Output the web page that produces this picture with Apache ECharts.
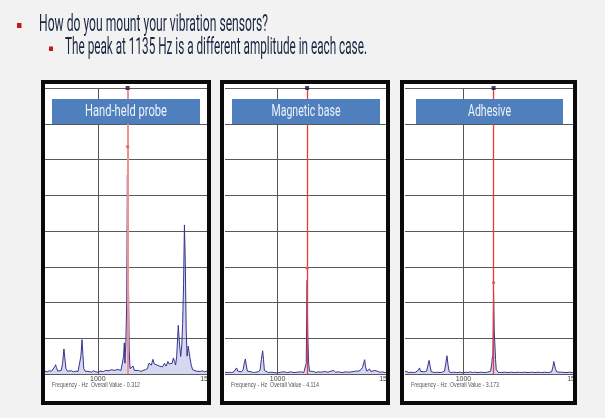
<!DOCTYPE html>
<html>
<head>
<meta charset="utf-8">
<script src="https://cdn.jsdelivr.net/npm/echarts@6/dist/echarts.min.js"></script>
<style>
  html, body { margin: 0; padding: 0; background: #f2f2f2; }
  #main { width: 605px; height: 418px; }
</style>
</head>
<body>
<div id="main"></div>
<script>
// text
const headline = 'How do you mount your vibration sensors?';
const subline = 'The peak at 1135 Hz is a different amplitude in each case.';
const panelTitles = ['Hand-held probe', 'Magnetic base', 'Adhesive'];
const overallValues = ['0.312', '4.114', '3.173'];

// axes
const xTickValues = [1000, 1500];
const refLineHz = 1000;
const cursorHz = 1135;
const yTop = 8;
const markerAmps = [6.36, 2.96, 2.55];

// spectra [Hz, amplitude in grid divisions]
const handHeld = [
  [760, 0.08], [770, 0.06], [780, 0.09], [790, 0.08], [798, 0.12], [804, 0.2], [808, 0.26], [812, 0.18],
  [818, 0.08], [826, 0.07], [834, 0.1], [840, 0.3], [846, 0.7], [850, 0.45], [855, 0.15], [862, 0.08],
  [870, 0.07], [880, 0.09], [890, 0.06], [900, 0.08], [910, 0.07], [918, 0.12], [923, 0.5], [928, 0.96],
  [932, 0.55], [936, 0.15], [942, 0.08], [950, 0.06], [960, 0.07], [970, 0.05], [980, 0.09], [990, 0.06],
  [1000, 0.05], [1010, 0.08], [1018, 0.12], [1025, 0.07], [1035, 0.1], [1042, 0.06], [1050, 0.09],
  [1060, 0.12], [1068, 0.07], [1078, 0.1], [1088, 0.13], [1095, 0.08], [1105, 0.1], [1112, 0.15],
  [1117, 0.5], [1120, 0.87], [1123, 0.3], [1127, 0.9], [1131, 2.0], [1134, 5.57], [1136, 3.5],
  [1139, 2.6], [1142, 0.7], [1146, 0.15], [1152, 0.1], [1160, 0.22], [1166, 0.1], [1175, 0.08],
  [1185, 0.1], [1195, 0.07], [1205, 0.1], [1215, 0.12], [1225, 0.15], [1232, 0.3], [1237, 0.35],
  [1243, 0.25], [1250, 0.41], [1256, 0.28], [1262, 0.33], [1268, 0.25], [1274, 0.3], [1280, 0.22],
  [1287, 0.25], [1294, 0.2], [1302, 0.3], [1310, 0.22], [1318, 0.35], [1324, 0.28], [1331, 0.32],
  [1337, 0.3], [1343, 0.45], [1348, 0.35], [1353, 0.25], [1358, 0.5], [1365, 1.36], [1370, 0.9],
  [1376, 0.49], [1381, 0.8], [1385, 1.42], [1389, 2.5], [1393, 4.17], [1397, 3.1], [1401, 1.2],
  [1405, 0.5], [1410, 0.78], [1414, 0.78], [1418, 0.45], [1424, 0.25], [1430, 0.12], [1438, 0.1],
  [1446, 0.08], [1455, 0.1], [1465, 0.07], [1475, 0.09], [1485, 0.06], [1495, 0.08], [1500, 0.07]
];
const magnetic = [
  [760, 0.05], [770, 0.04], [780, 0.05], [790, 0.04], [800, 0.06], [808, 0.1], [813, 0.17], [818, 0.08],
  [826, 0.05], [835, 0.06], [843, 0.12], [848, 0.3], [853, 0.42], [857, 0.25], [862, 0.08], [870, 0.05],
  [880, 0.06], [890, 0.04], [900, 0.05], [910, 0.06], [920, 0.1], [926, 0.4], [932, 0.65], [936, 0.4],
  [940, 0.1], [948, 0.05], [958, 0.04], [970, 0.05], [985, 0.04], [1000, 0.03], [1015, 0.05],
  [1030, 0.06], [1045, 0.04], [1060, 0.06], [1075, 0.04], [1090, 0.05], [1105, 0.06], [1120, 0.04],
  [1126, 0.05], [1131, 0.3], [1135, 2.62], [1138, 1.1], [1142, 0.3], [1146, 0.08], [1155, 0.05],
  [1165, 0.07], [1175, 0.04], [1185, 0.06], [1200, 0.05], [1215, 0.07], [1230, 0.05], [1245, 0.08],
  [1255, 0.1], [1265, 0.05], [1280, 0.06], [1295, 0.04], [1310, 0.06], [1325, 0.05], [1340, 0.06],
  [1355, 0.08], [1362, 0.12], [1368, 0.08], [1378, 0.1], [1388, 0.18], [1394, 0.32], [1398, 0.4],
  [1402, 0.2], [1408, 0.08], [1415, 0.1], [1420, 0.14], [1426, 0.07], [1434, 0.06], [1445, 0.1],
  [1452, 0.12], [1458, 0.07], [1470, 0.05], [1480, 0.06], [1490, 0.04], [1500, 0.05]
];
const adhesive = [
  [738, 0.08], [745, 0.05], [755, 0.04], [765, 0.05], [775, 0.04], [785, 0.05], [792, 0.06],
  [797, 0.1], [803, 0.17], [808, 0.07], [815, 0.05], [825, 0.06], [835, 0.08], [841, 0.25], [846, 0.38],
  [851, 0.2], [856, 0.06], [865, 0.05], [875, 0.04], [885, 0.05], [895, 0.04], [905, 0.05], [915, 0.08],
  [921, 0.3], [926, 0.51], [931, 0.25], [936, 0.06], [945, 0.04], [955, 0.05], [970, 0.04], [985, 0.05],
  [1000, 0.03], [1010, 0.05], [1020, 0.04], [1030, 0.06], [1040, 0.04], [1050, 0.05], [1065, 0.04],
  [1080, 0.05], [1095, 0.04], [1108, 0.05], [1115, 0.04], [1122, 0.08], [1127, 0.3], [1129, 0.44],
  [1132, 0.5], [1135, 2.28], [1138, 1.2], [1141, 0.81], [1144, 0.4], [1147, 0.12], [1155, 0.05],
  [1170, 0.04], [1185, 0.05], [1200, 0.04], [1215, 0.05], [1230, 0.04], [1245, 0.05], [1260, 0.04],
  [1275, 0.05], [1290, 0.04], [1305, 0.05], [1320, 0.04], [1335, 0.05], [1350, 0.04], [1365, 0.05],
  [1380, 0.04], [1395, 0.06], [1401, 0.2], [1405, 0.35], [1408, 0.4], [1412, 0.15], [1418, 0.06],
  [1428, 0.05], [1434, 0.1], [1440, 0.05], [1460, 0.04], [1475, 0.05], [1490, 0.04], [1500, 0.05]
];
const spectra = [handHeld, magnetic, adhesive];

// layout of the three instrument windows
const panels = [
  { frame: [41, 80, 170, 325], plotLeft: 45, plotWidth: 163, xMin: 760, xMax: 1500, box: [52, 99, 148, 25], cursorColor: '#f19090', cursorWidth: 2 },
  { frame: [220, 80, 170, 325], plotLeft: 225, plotWidth: 162, xMin: 760, xMax: 1500, box: [232, 99, 148, 25], cursorColor: '#e83a3a', cursorWidth: 1.3 },
  { frame: [400, 80, 177, 325], plotLeft: 405, plotWidth: 170, xMin: 738, xMax: 1500, box: [416, 99, 147, 25], cursorColor: '#e83a3a', cursorWidth: 1.3 }
];
const plotTop = 88;
const plotHeight = 286;

const measureCtx = document.createElement('canvas').getContext('2d');
function fitScale(text, font, width) {
  measureCtx.font = font;
  return width / measureCtx.measureText(text).width;
}

const slideFont = 'Roboto';
const graphics = [];
const grids = [], xAxes = [], yAxes = [], series = [];

// bullets + headline
graphics.push(
  { type: 'rect', shape: { x: 17, y: 23, width: 4.5, height: 5 }, style: { fill: '#c01a1f' } },
  { type: 'rect', shape: { x: 49, y: 46.5, width: 4, height: 4.5 }, style: { fill: '#c01a1f' } },
  {
    type: 'text', x: 39, y: 24.5, scaleX: fitScale(headline, '24px ' + slideFont, 229),
    style: { text: headline, fontSize: 24, fontFamily: slideFont, fill: '#182642', align: 'left', verticalAlign: 'middle' }
  },
  {
    type: 'text', x: 65, y: 48, scaleX: fitScale(subline, '24px ' + slideFont, 302),
    style: { text: subline, fontSize: 24, fontFamily: slideFont, fill: '#182642', align: 'left', verticalAlign: 'middle' }
  }
);

panels.forEach(function (p, i) {
  const [fx, fy, fw, fh] = p.frame;
  // white window
  graphics.push({ type: 'rect', z: -10, shape: { x: fx, y: fy, width: fw, height: fh }, style: { fill: '#ffffff' } });
  // black frame
  graphics.push({ type: 'rect', z: 100, shape: { x: fx + 2, y: fy + 2, width: fw - 4, height: fh - 4 }, style: { fill: 'none', stroke: '#0a0a0a', lineWidth: 4 } });
  // gray slide to the right of the frame (hides the clipped 1500 label)
  const gapEnd = i < panels.length - 1 ? panels[i + 1].frame[0] : 605;
  graphics.push({ type: 'rect', z: 99, shape: { x: fx + fw, y: fy, width: gapEnd - fx - fw, height: fh + 2 }, style: { fill: '#f2f2f2' } });
  // title box
  const [bx, by, bw, bh] = p.box;
  graphics.push({ type: 'rect', z: 100, shape: { x: bx, y: by, width: bw, height: bh }, style: { fill: '#4f80bd' } });
  const titleScale = fitScale(panelTitles[i], '17px ' + slideFont, [82, 69, 43][i]);
  graphics.push({
    type: 'text', z: 101, x: bx + bw / 2, y: by + bh / 2 + 0.5, scaleX: titleScale,
    style: { text: panelTitles[i], fontSize: 17, fontFamily: slideFont, fill: '#eef2f9', align: 'center', verticalAlign: 'middle' }
  });
  // footer text
  const footer = 'Frequency - Hz  Overall Value - ' + overallValues[i];
  graphics.push({
    type: 'text', z: 101, x: fx + 11, y: 385.5, scaleX: fitScale(footer, '6.5px Liberation Sans', 88),
    style: { text: footer, fontSize: 6.5, fontFamily: 'Liberation Sans', fill: '#555', align: 'left', verticalAlign: 'middle' }
  });

  grids.push({ left: p.plotLeft, width: p.plotWidth, top: plotTop, height: plotHeight });
  xAxes.push({
    type: 'value', gridIndex: i, min: p.xMin, max: p.xMax,
    axisLine: { show: false }, axisTick: { show: false }, splitLine: { show: false },
    axisLabel: {
      customValues: xTickValues, fontSize: 7, color: '#444', margin: 2, fontFamily: 'Liberation Sans',
      formatter: function (v) { return String(v); }
    }
  });
  yAxes.push({
    type: 'value', gridIndex: i, min: 0, max: yTop, interval: 1,
    axisLine: { show: false }, axisTick: { show: false }, axisLabel: { show: false },
    splitLine: { lineStyle: { color: '#5a5a5a', width: 1 } }
  });
  // reference line at 1000 Hz and the red cursor, drawn under the spectrum
  series.push({
    type: 'line', xAxisIndex: i, yAxisIndex: i, data: [], silent: true, z: 2,
    markLine: {
      silent: true, symbol: ['none', 'none'], label: { show: false },
      data: [
        { xAxis: refLineHz, lineStyle: { color: '#555', width: 1, type: 'solid' } },
        { xAxis: cursorHz, lineStyle: { color: p.cursorColor, width: p.cursorWidth, type: 'solid' } }
      ]
    }
  });
  series.push({
    type: 'line', xAxisIndex: i, yAxisIndex: i, data: spectra[i],
    showSymbol: false, silent: true, z: 3,
    lineStyle: { color: '#35358c', width: 1 },
    areaStyle: { color: 'rgba(150,150,220,0.55)' }
  });
  series.push({
    type: 'scatter', xAxisIndex: i, yAxisIndex: i, silent: true, z: 5,
    data: [[cursorHz, yTop]], symbol: 'rect', symbolSize: 4, itemStyle: { color: '#16163e' }
  });
  series.push({
    type: 'scatter', xAxisIndex: i, yAxisIndex: i, silent: true, z: 5,
    data: [[cursorHz, markerAmps[i]]], symbol: 'circle', symbolSize: 3.5, itemStyle: { color: '#e05a5a' }
  });
});

const chart = echarts.init(document.getElementById('main'));
chart.setOption({
  backgroundColor: '#f2f2f2',
  animation: false,
  grid: grids,
  xAxis: xAxes,
  yAxis: yAxes,
  series: series,
  graphic: { elements: graphics }
});
</script>
</body>
</html>
